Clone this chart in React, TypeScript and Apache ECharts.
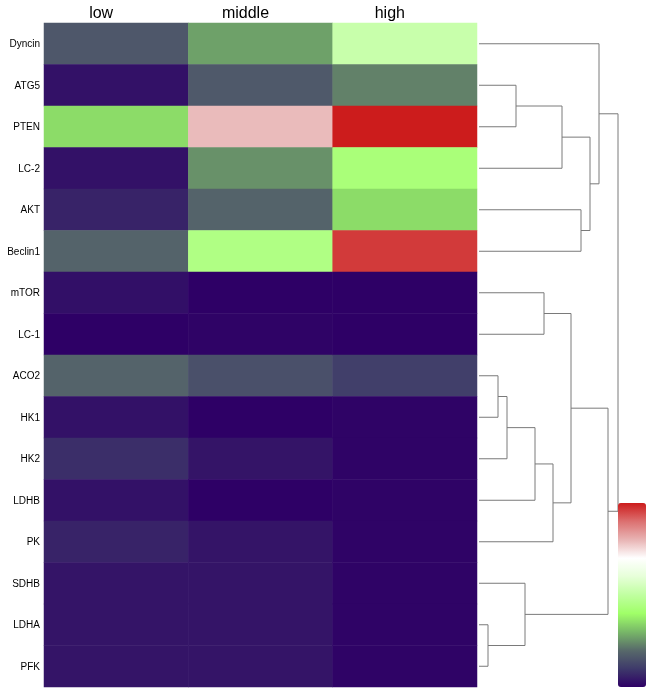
import React, { useEffect, useRef } from "react";
import * as echarts from "echarts";

const genes = ["Dyncin", "ATG5", "PTEN", "LC-2", "AKT", "Beclin1", "mTOR", "LC-1", "ACO2", "HK1", "HK2", "LDHB", "PK", "SDHB", "LDHA", "PFK"];
const groups = ["low", "middle", "high"];
const lowValues = [0.16, 0.03, 0.35, 0.03, 0.06, 0.185, 0.025, 0.0, 0.185, 0.03, 0.08, 0.03, 0.06, 0.035, 0.035, 0.035];
const middleValues = [0.27, 0.165, 0.79, 0.25, 0.185, 0.45, 0.0, 0.005, 0.145, 0.0, 0.035, 0.0, 0.035, 0.035, 0.035, 0.035];
const highValues = [0.52, 0.23, 1.0, 0.43, 0.35, 0.964, 0.0, 0.0, 0.11, 0.005, 0.005, 0.005, 0.005, 0.005, 0.005, 0.005];

const scaleColors = ["#2e0066", "#3e3a6a", "#586a6a", "#78b868", "#a0ff68", "#c0ffa0", "#e6ffd8", "#ffffff", "#e8b4b4", "#dc7070", "#cc1c1c"];

// dendrogram merges: [left child, right child, height]
const mergeLeft = ["ATG5", "m0", "AKT", "m1", "Dyncin", "mTOR", "ACO2", "m6", "m7", "m8", "m5", "LDHA", "SDHB", "m10", "m4"];
const mergeRight = ["PTEN", "LC-2", "Beclin1", "m2", "m3", "LC-1", "HK1", "HK2", "LDHB", "PK", "m9", "PFK", "m11", "m12", "m13"];
const mergeHeight = [37, 83, 102, 111, 120, 65, 19, 28, 56, 74, 92, 9, 46, 129, 139];

const FONT = "'Liberation Sans', Arial, sans-serif";

export default function App() {
  const ref = useRef<HTMLDivElement>(null);
  useEffect(() => {
    if (!ref.current) return;
    const chart = echarts.init(ref.current, undefined, { renderer: "svg" });

    const heatData: number[][] = [];
    const cols = [lowValues, middleValues, highValues];
    cols.forEach((arr, xi) => arr.forEach((v, yi) => heatData.push([xi, yi, v])));

    const pos: Record<string, { y: number; h: number }> = {};
    genes.forEach((g, i) => (pos[g] = { y: i, h: 0 }));
    const segs: number[][] = [];
    mergeLeft.forEach((l, i) => {
      const a = pos[l];
      const b = pos[mergeRight[i]];
      const h = mergeHeight[i];
      segs.push([h, a.y, b.y, a.h, b.h]);
      pos["m" + i] = { y: (a.y + b.y) / 2, h };
    });

    chart.setOption({
      animation: false,
      textStyle: { fontFamily: FONT },
      grid: [
        { left: 44, top: 23, width: 433, height: 664 },
        { left: 479, top: 23, width: 139, height: 664 },
      ],
      xAxis: [
        {
          type: "category",
          data: groups,
          position: "top",
          gridIndex: 0,
          axisLine: { show: false },
          axisTick: { show: false },
          axisLabel: { fontSize: 16, color: "#000", margin: 3, padding: [0, 30, 0, 0], fontFamily: FONT },
        },
        { type: "value", gridIndex: 1, min: 0, max: 139, show: false },
      ],
      yAxis: [
        {
          type: "category",
          data: genes,
          inverse: true,
          gridIndex: 0,
          axisLine: { show: false },
          axisTick: { show: false },
          axisLabel: { fontSize: 10, color: "#000", margin: 4, fontFamily: FONT },
        },
        { type: "value", gridIndex: 1, min: -0.5, max: 15.5, inverse: true, show: false },
      ],
      visualMap: {
        type: "continuous",
        min: 0,
        max: 1,
        seriesIndex: 0,
        calculable: false,
        hoverLink: false,
        left: 618,
        top: 503,
        padding: 0,
        itemWidth: 28,
        itemHeight: 184,
        inRange: { color: scaleColors },
      },
      series: [
        {
          type: "heatmap",
          xAxisIndex: 0,
          yAxisIndex: 0,
          data: heatData,
          itemStyle: { borderWidth: 0 },
        },
        {
          type: "custom",
          xAxisIndex: 1,
          yAxisIndex: 1,
          encode: { x: [0, 3, 4], y: [1, 2] },
          data: segs,
          renderItem: (params: any, api: any) => {
            const h = api.value(0), yl = api.value(1), yr = api.value(2), hl = api.value(3), hr = api.value(4);
            const pts = [api.coord([hl, yl]), api.coord([h, yl]), api.coord([h, yr]), api.coord([hr, yr])];
            return {
              type: "polyline",
              shape: { points: pts },
              style: { stroke: "#7a7a7a", lineWidth: 1, fill: null },
            };
          },
        },
      ],
    });
    return () => chart.dispose();
  }, []);
  return <div ref={ref} style={{ position: "fixed", left: 0, top: 0, width: 649, height: 690 }} />;
}
